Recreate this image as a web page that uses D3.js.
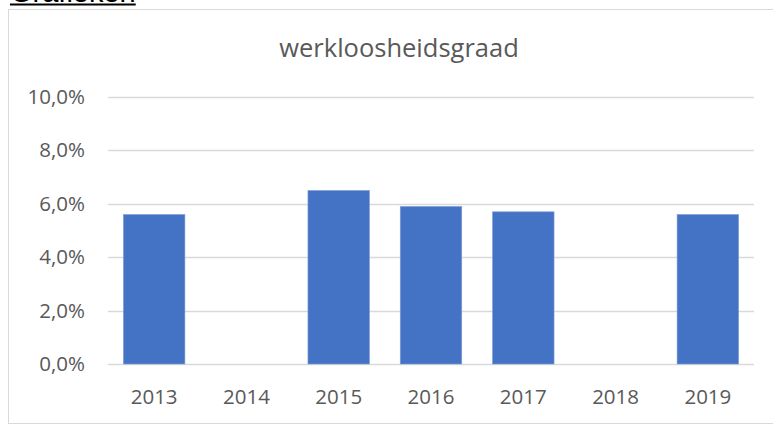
<!DOCTYPE html>
<html>
<head>
<meta charset="utf-8">
<script src="https://cdn.jsdelivr.net/npm/d3@7"></script>
<style>
  body { margin: 0; background: #fff; }
  svg { display: block; }
</style>
</head>
<body>
<div id="chart"></div>
<script>
// data
// -----------------------------------------------
const years = ['2013', '2014', '2015', '2016', '2017', '2018', '2019'];
const rates = [5.6, null, 6.5, 5.9, 5.7, null, 5.6]; // in %
const yTicks = [0, 2, 4, 6, 8, 10];
const title = 'werkloosheidsgraad';

// margins
// -----------------------------------------------
let width = 773,
  height = 426;
let margin = { top: 97, right: 19, bottom: 62, left: 108 };

const svg = d3
  .select('#chart')
  .append('svg')
  .attr('width', width)
  .attr('height', height);

// chart frame (runs off on the right)
svg
  .append('rect')
  .attr('x', 8.5)
  .attr('y', 9.5)
  .attr('width', 800)
  .attr('height', 414)
  .attr('fill', '#fff')
  .attr('stroke', '#d9d9d9')
  .attr('stroke-width', 1);

// heading above the chart (only its lower part is in view)
const head = svg
  .append('text')
  .attr('x', 10)
  .attr('y', 2)
  .attr('font-family', 'Liberation Sans, Arial, sans-serif')
  .attr('font-size', 29)
  .attr('fill', '#000')
  .text('Grafieken');
const hw = head.node().getComputedTextLength();
svg
  .append('rect')
  .attr('x', 10)
  .attr('y', 3.5)
  .attr('width', hw)
  .attr('height', 2)
  .attr('fill', '#000');

// scales
// -----------------------------------------------
const x = d3
  .scaleBand()
  .domain(years)
  .range([margin.left, width - margin.right])
  .paddingInner(1 / 3)
  .paddingOuter(1 / 6);

const y = d3
  .scaleLinear()
  .domain([0, 10])
  .range([height - margin.bottom, margin.top]);

const font = 'Open Sans, sans-serif';

// gridlines
svg
  .append('g')
  .selectAll('line')
  .data(yTicks)
  .join('line')
  .attr('x1', margin.left)
  .attr('x2', width - margin.right)
  .attr('y1', (d) => Math.round(y(d)) + 0.5)
  .attr('y2', (d) => Math.round(y(d)) + 0.5)
  .attr('stroke', '#d9d9d9')
  .attr('stroke-width', 1.5);

// bars
svg
  .append('g')
  .selectAll('rect')
  .data(years.map((yr, i) => ({ year: yr, rate: rates[i] })).filter((d) => d.rate != null))
  .join('rect')
  .attr('x', (d) => x(d.year))
  .attr('y', (d) => y(d.rate))
  .attr('width', x.bandwidth())
  .attr('height', (d) => y(0) - y(d.rate))
  .attr('fill', '#4472c4')
  .attr('stroke', '#7f9fd8')
  .attr('stroke-width', 0.6);

// y axis labels
const yAxis = d3
  .axisLeft(y)
  .tickValues(yTicks)
  .tickSize(0)
  .tickPadding(0)
  .tickFormat((d) => d3.format('.1f')(d).replace('.', ',') + '%');

svg
  .append('g')
  .attr('transform', 'translate(85,0)')
  .call(yAxis)
  .call((g) => g.select('.domain').remove())
  .call((g) =>
    g
      .selectAll('text')
      .attr('font-family', font)
      .attr('font-size', 20.5)
      .attr('fill', '#595959')
  );

// x axis labels
const xAxis = d3.axisBottom(x).tickSize(0).tickPadding(0);

svg
  .append('g')
  .attr('transform', `translate(0,${height - margin.bottom})`)
  .call(xAxis)
  .call((g) => g.select('.domain').remove())
  .call((g) =>
    g
      .selectAll('text')
      .attr('dy', null)
      .attr('y', 40)
      .attr('font-family', font)
      .attr('font-size', 20.5)
      .attr('fill', '#595959')
  );

// title
svg
  .append('text')
  .attr('x', 399)
  .attr('y', 57)
  .attr('text-anchor', 'middle')
  .attr('font-family', font)
  .attr('font-size', 25.5)
  .attr('fill', '#595959')
  .text(title);
</script>
</body>
</html>
